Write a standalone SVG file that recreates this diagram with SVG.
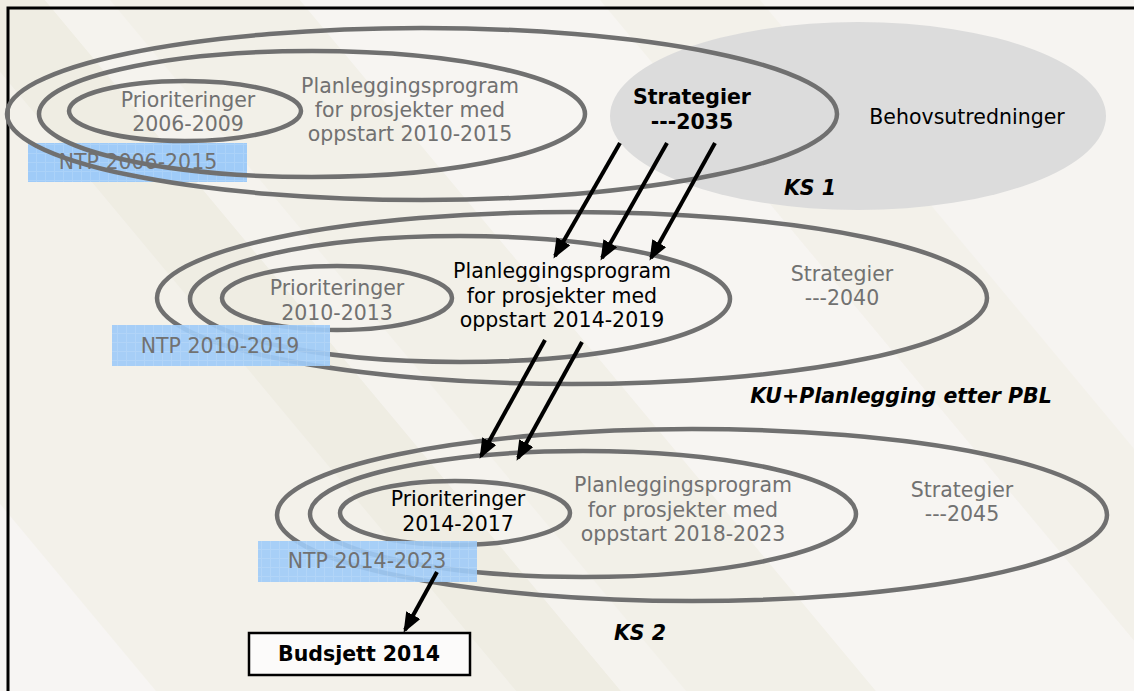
<svg xmlns="http://www.w3.org/2000/svg" width="1134" height="691" viewBox="0 0 1134 691">
  <defs>
    <style>
      .ring { fill: none; stroke: #707070; stroke-width: 4.5; }
      .t { font-family: "DejaVu Sans", Verdana, sans-serif; font-size: 20.5px; text-anchor: middle; }
      .gray { fill: #717171; }
      .black { fill: #000; }
      .bold { font-weight: bold; }
      .bi { font-weight: bold; font-style: italic; font-size: 20.5px; fill: #000; }
      .ntp { fill: url(#grid); }
      .arrow { stroke: #000; stroke-width: 4; fill: none; marker-end: url(#head); }
    </style>
    <pattern id="grid" width="9" height="9" patternUnits="userSpaceOnUse">
      <rect width="9" height="9" fill="#9fcbf8"/>
      <path d="M0,0.5 H9 M0.5,0 V9" stroke="#abd2f9" stroke-width="1"/>
    </pattern>
    <marker id="head" viewBox="0 0 20 16" refX="17" refY="8" markerWidth="20" markerHeight="16" markerUnits="userSpaceOnUse" orient="auto">
      <path d="M0,0 L20,8 L0,16 z" fill="#000"/>
    </marker>
  </defs>

  <!-- background with soft diagonal bands -->
  <g id="background">
    <rect width="1134" height="691" fill="#f6f4f1"/>
    <polygon points="-700,0 -420,0 156,691 -124,691" fill="#f7f5f3"/>
    <polygon points="-420,0 -60,0 516,691 156,691" fill="#f3f1ea"/>
    <polygon points="-60,0 45,0 621,691 516,691" fill="#efede3"/>
    <polygon points="45,0 110,0 686,691 621,691" fill="#f5f3ee"/>
    <polygon points="110,0 300,0 876,691 686,691" fill="#f2f0e8"/>
    <polygon points="300,0 600,0 1176,691 876,691" fill="#f7f5f2"/>
    <polygon points="600,0 760,0 1336,691 1176,691" fill="#f3f1ea"/>
    <path d="M8,691 V8 H1134" fill="none" stroke="#000" stroke-width="3"/>
  </g>

  <!-- top row: NTP 2006-2015 -->
  <g id="behov">
    <ellipse cx="858" cy="116" rx="248" ry="94" fill="#dcdcdc"/>
    <text class="t black" x="967" y="124">Behovsutredninger</text>
  </g>
  <g id="ntp2006">
    <rect x="28" y="143" width="219" height="39" class="ntp"/>
    <text class="t gray" x="138" y="169">NTP 2006-2015</text>
  </g>
  <g id="ring2006">
    <ellipse class="ring" cx="422" cy="114" rx="415" ry="86"/>
    <ellipse class="ring" cx="312" cy="114" rx="273" ry="63"/>
    <ellipse class="ring" cx="185" cy="111" rx="116" ry="30"/>
  </g>
  <g id="prio2006">
    <text class="t gray" x="188" y="107">Prioriteringer</text>
    <text class="t gray" x="188" y="131">2006-2009</text>
  </g>
  <g id="plan2010">
    <text class="t gray" x="410" y="93">Planleggingsprogram</text>
    <text class="t gray" x="410" y="117">for prosjekter med</text>
    <text class="t gray" x="410" y="141">oppstart 2010-2015</text>
  </g>
  <g id="strat2035">
    <text class="t black bold" x="692" y="104">Strategier</text>
    <text class="t black bold" x="692" y="129">---2035</text>
  </g>
  <text id="ks1" class="t bi" x="810" y="195">KS 1</text>

  <!-- middle row: NTP 2010-2019 -->
  <g id="ring2010">
    <ellipse class="ring" cx="572" cy="298" rx="415" ry="86"/>
    <ellipse class="ring" cx="460" cy="299" rx="270" ry="63"/>
    <ellipse class="ring" cx="337" cy="298" rx="115" ry="32"/>
  </g>
  <g id="prio2010">
    <text class="t gray" x="337" y="295">Prioriteringer</text>
    <text class="t gray" x="337" y="320">2010-2013</text>
  </g>
  <g id="plan2014">
    <text class="t black" x="562" y="278">Planleggingsprogram</text>
    <text class="t black" x="562" y="303">for prosjekter med</text>
    <text class="t black" x="562" y="327">oppstart 2014-2019</text>
  </g>
  <g id="strat2040">
    <text class="t gray" x="842" y="281">Strategier</text>
    <text class="t gray" x="842" y="305">---2040</text>
  </g>
  <g id="ntp2010">
    <rect x="112" y="325" width="218" height="41" class="ntp" opacity="0.92"/>
    <text class="t gray" x="220" y="353">NTP 2010-2019</text>
  </g>
  <text id="ku" class="t bi" x="901" y="403">KU+Planlegging etter PBL</text>

  <!-- bottom row: NTP 2014-2023 -->
  <g id="ring2014">
    <ellipse class="ring" cx="692" cy="515" rx="415" ry="86"/>
    <ellipse class="ring" cx="583" cy="514" rx="273" ry="63"/>
    <ellipse class="ring" cx="455" cy="513" rx="115" ry="32"/>
  </g>
  <g id="prio2014">
    <text class="t black" x="458" y="506">Prioriteringer</text>
    <text class="t black" x="458" y="531">2014-2017</text>
  </g>
  <g id="plan2018">
    <text class="t gray" x="683" y="492">Planleggingsprogram</text>
    <text class="t gray" x="683" y="517">for prosjekter med</text>
    <text class="t gray" x="683" y="541">oppstart 2018-2023</text>
  </g>
  <g id="strat2045">
    <text class="t gray" x="962" y="497">Strategier</text>
    <text class="t gray" x="962" y="521">---2045</text>
  </g>
  <g id="ntp2014">
    <rect x="258" y="541" width="219" height="41" class="ntp" opacity="0.9"/>
    <text class="t gray" x="367" y="568">NTP 2014-2023</text>
  </g>
  <text id="ks2" class="t bi" x="640" y="640">KS 2</text>
  <g id="budsjett">
    <rect x="249" y="633" width="221" height="42" fill="#fcfbfa" stroke="#000" stroke-width="2.5"/>
    <text class="t black bold" x="359" y="661">Budsjett 2014</text>
  </g>

  <!-- connectors -->
  <g id="connectors">
    <line class="arrow" x1="620" y1="143" x2="555" y2="256"/>
    <line class="arrow" x1="667" y1="143" x2="602" y2="258"/>
    <line class="arrow" x1="715" y1="143" x2="651" y2="258"/>
    <line class="arrow" x1="545" y1="340" x2="481" y2="456"/>
    <line class="arrow" x1="582" y1="342" x2="518" y2="458"/>
    <line class="arrow" x1="437" y1="572" x2="405" y2="630"/>
  </g>
</svg>
